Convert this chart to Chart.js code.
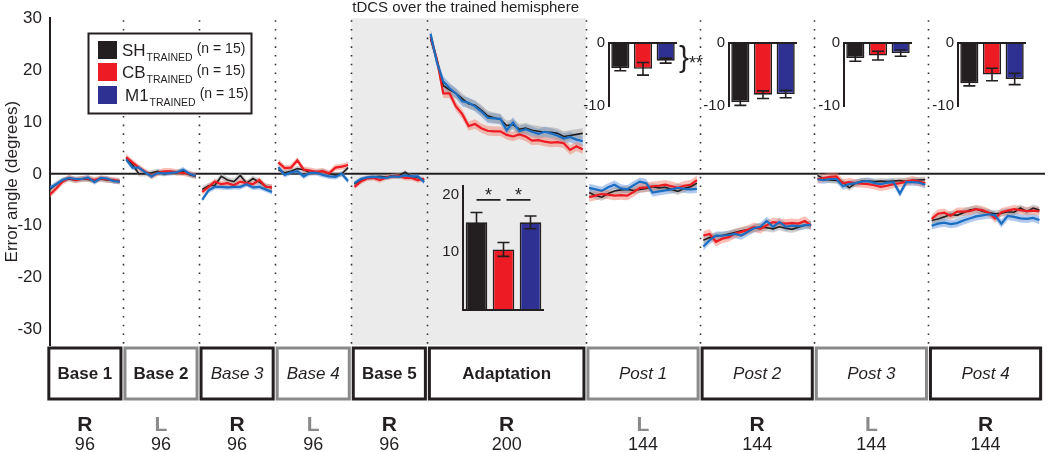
<!DOCTYPE html>
<html>
<head>
<meta charset="utf-8">
<script src="https://cdn.jsdelivr.net/npm/chart.js@4.4.1/dist/chart.umd.min.js"></script>
<style>
  html, body { margin: 0; padding: 0; background: #fff; }
  #wrap { position: relative; width: 1050px; height: 452px; overflow: hidden; }
  #wrap canvas { position: absolute; }
</style>
</head>
<body>
<div id="wrap">
  <canvas id="main" width="1050" height="452" style="left:0;top:0"></canvas>
  <canvas id="inAdapt" width="126" height="150" style="left:423px;top:173px"></canvas>
  <canvas id="inP1" width="143" height="89" style="left:569px;top:30px"></canvas>
  <canvas id="inP2" width="112" height="89" style="left:689px;top:30px"></canvas>
  <canvas id="inP3" width="112" height="89" style="left:804px;top:30px"></canvas>
  <canvas id="inP4" width="112" height="89" style="left:918px;top:30px"></canvas>
</div>
<script>
// ---- data ----
const blockNames = ['Base 1', 'Base 2', 'Base 3', 'Base 4', 'Base 5', 'Adaptation', 'Post 1', 'Post 2', 'Post 3', 'Post 4'];
const blockTrials = [96, 96, 96, 96, 96, 200, 144, 144, 144, 144];
const blockHand = ['R', 'L', 'R', 'L', 'R', 'R', 'L', 'R', 'L', 'R'];
const epochTrials = 8;
const yTickValues = [-30, -20, -10, 0, 10, 20, 30];
const groupNames = ['SH', 'CB', 'M1'];

// mean error per 8-trial epoch, one array per block
const shEpochs = [
  [-3, -2, -1.2, -1, -1.2, -1, -1.1, -1.3, -1, -1.2, -1.3, -1.5],
  [3, 1.8, 0, 0, 0.2, 0.5, 0, 0.3, 0.2, 0.5, -0.2, -0.5],
  [-3, -2.3, -2.2, -0.5, -1.2, -1.5, -0.3, -1.8, -0.9, -1.6, -2.4, -2.7],
  [0.8, 0.2, 0.5, 1, 0.8, 0.2, 0.3, 0.5, 0, -0.2, 0, 1.2],
  [-2, -1.2, -0.8, -0.6, -0.5, -0.6, -0.4, -0.3, 0.3, -0.5, -0.7, -1.2],
  [26, 22, 17, 16.2, 15.5, 14.5, 13.5, 13.2, 12.3, 11.2, 10.8, 10.5, 9.3, 9.5, 8.6, 8.8, 8.4, 8.2, 8, 8, 7.8, 7.2, 7.4, 7.6, 7.8],
  [-3.6, -4.2, -4.5, -3.8, -3.3, -3.1, -3, -3.2, -3, -2.8, -2.5, -2.7, -2.6, -3, -3.4, -2.8, -2.5, -1.8],
  [-12.8, -12.3, -12, -11.9, -11.6, -11.3, -11, -10.8, -10.5, -10.3, -10.4, -10.6, -10.2, -10.5, -10.7, -10.3, -9.9, -9.8],
  [-0.3, -1, -1.2, -1.3, -1.6, -2.7, -1.8, -1.4, -1.4, -1.5, -1.4, -1.5, -1.4, -1.3, -1.5, -1.3, -1.2, -1.1],
  [-9, -8.7, -8.3, -7.8, -8, -7.5, -7, -6.8, -7.2, -7.5, -7.7, -7.6, -7.3, -7.4, -6.6, -7.3, -6.6, -7]
];
const cbEpochs = [
  [-4, -2.8, -1.5, -0.8, -1.2, -1, -0.9, -1.2, -0.9, -1.1, -1.2, -1.4],
  [3.2, 2.2, 1.2, 0.4, -0.4, 0.2, 0.5, 0.5, 0.3, 0.2, 0, -0.4],
  [-3.5, -2.5, -1.5, -2, -1.8, -2.2, -1.5, -1.8, -2, -1.2, -2.5, -2.6],
  [2.2, 1.1, 1.2, 2.6, 0.8, 0.6, 0.4, 0.5, 0.1, 1.2, 1.4, 1.7],
  [-2.5, -1.5, -0.9, -0.8, -1.2, -0.7, -0.5, -0.4, -0.8, -0.8, -1.2, -1],
  [26.5, 22, 15.5, 15.5, 13, 11.5, 9.2, 9.6, 8.8, 8.3, 8.2, 8.2, 7.5, 7.2, 7.6, 7.2, 6.4, 6.5, 6.2, 6, 6.1, 5.9, 4.6, 5.3, 4.7],
  [-4.5, -4.2, -3.9, -4, -4.2, -4.1, -4.2, -3.5, -2.7, -2.6, -2.4, -2.3, -2.1, -2.4, -2.7, -2.3, -2.1, -1.2],
  [-11.9, -11.6, -13.1, -12.5, -12.2, -11.5, -11.2, -10.8, -10.3, -10.6, -9.9, -9.3, -9.5, -9.6, -9.5, -9.6, -9.1, -10],
  [-1, -0.8, -0.6, -0.5, -1.8, -1.6, -1.8, -1.9, -2, -2.2, -2.5, -2.3, -2, -1.8, -1.5, -1.2, -1.5, -1.8],
  [-8.7, -7.7, -7.5, -8.1, -7.3, -7.3, -7.2, -6.8, -7, -7.5, -8.6, -7.4, -7.1, -6.8, -7, -7.2, -7.1, -7.2]
];
const m1Epochs = [
  [-2.7, -2, -1.2, -0.8, -1, -1, -0.7, -1.6, -0.8, -0.9, -1.4, -1.5],
  [2.8, 1.2, 1.2, 0.3, -0.5, 0.2, 0.1, 0.2, 0.3, 0.8, 0, -0.4],
  [-5, -3.2, -2.5, -2.5, -2.6, -2.5, -2.5, -2, -2.6, -2.5, -3, -3.5],
  [1.3, -0.2, 0.3, 0.5, -0.5, 0.2, 0.2, -0.2, -0.5, -0.6, 0, -1.4],
  [-1.8, -1, -0.7, -0.6, -0.7, -0.8, -0.5, -0.6, -0.3, -0.5, -0.5, -1.6],
  [27, 21.5, 17.8, 16.5, 15.5, 14, 13.7, 13, 12, 10.8, 10.7, 10.6, 8.4, 9.9, 8.2, 8.6, 8.1, 7.7, 8.1, 7.8, 7.4, 6.8, 7.1, 6.6, 6.3],
  [-2.7, -3, -3.3, -2.6, -2.1, -2.8, -3, -2.2, -1.5, -1.8, -3.6, -3.4, -3.2, -3, -2.7, -2.9, -3, -2.9],
  [-14, -12.8, -11.9, -11.9, -11.8, -11.6, -11.9, -11.2, -10.5, -10.2, -9.1, -10.2, -9.3, -10.2, -10, -10.1, -9.9, -9.9],
  [-1.1, -1.2, -1, -1, -2.4, -2, -1.8, -1.5, -1.4, -1.8, -2, -1.7, -1.6, -3.8, -1.6, -1.6, -1.7, -2.1],
  [-10, -9.6, -9.4, -9.7, -9.5, -9, -8.6, -8.2, -8, -7.8, -8, -9.6, -8.1, -8.3, -8.6, -8.7, -8.5, -8.9]
];
// SEM per block (shaded bands)
const shSem = [0.5, 0.5, 0.6, 0.5, 0.4, 1.0, 0.7, 0.7, 0.6, 0.7];
const cbSem = [0.6, 0.6, 0.6, 0.6, 0.5, 0.9, 0.9, 0.9, 0.8, 0.8];
const m1Sem = [0.5, 0.5, 0.5, 0.5, 0.4, 1.0, 0.8, 0.8, 0.7, 0.8];

// inset bar charts: mean and SEM per group
const adaptMeans = [15.2, 10.5, 15.2];
const adaptSem = [1.7, 1.2, 1.1];
const post1Means = [-4.0, -4.1, -2.8];
const post1Sem = [0.4, 1.0, 0.4];
const post2Means = [-9.4, -8.2, -8.1];
const post2Sem = [0.5, 0.6, 0.6];
const post3Means = [-2.4, -2.0, -1.6];
const post3Sem = [0.5, 0.7, 0.5];
const post4Means = [-6.4, -5.0, -5.7];
const post4Sem = [0.4, 1.0, 0.9];

// ---- styling ----
const FONT = '"Liberation Sans", Arial, sans-serif';
const INK = '#231f20';
const GREY = '#8a8a8a';
const lineColors = ['#231f20', '#ed1c24', '#1b6ec2'];
const bandColors = ['rgba(150,150,150,0.45)', 'rgba(242,130,110,0.5)', 'rgba(80,135,215,0.45)'];
const barColors = ['#231f20', '#ed1c24', '#2e3192'];
const italicBlocks = ['Base 3', 'Base 4', 'Post 1', 'Post 2', 'Post 3', 'Post 4'];

const blockStart = [];
blockTrials.reduce((acc, n) => { blockStart.push(acc); return acc + n; }, 0);
const totalTrials = blockTrials.reduce((a, b) => a + b, 0);

function epochPoints(values, b, offset) {
  return values.map((v, i) => ({ x: blockStart[b] + epochTrials / 2 + i * epochTrials, y: v + offset }));
}

const groups = [
  { epochs: shEpochs, sem: shSem },
  { epochs: cbEpochs, sem: cbSem },
  { epochs: m1Epochs, sem: m1Sem }
];

const datasets = [];
groups.forEach((g, gi) => {
  g.epochs.forEach((vals, b) => {
    datasets.push({ data: epochPoints(vals, b, -g.sem[b]), borderWidth: 0, pointRadius: 0, fill: false, order: 20 });
    datasets.push({ data: epochPoints(vals, b, g.sem[b]), borderWidth: 0, pointRadius: 0, fill: '-1', backgroundColor: bandColors[gi], order: 20 });
  });
});
groups.forEach((g, gi) => {
  g.epochs.forEach((vals, b) => {
    datasets.push({
      data: epochPoints(vals, b, 0),
      borderColor: lineColors[gi],
      borderWidth: gi === 0 ? 1.6 : 2.2,
      pointRadius: 0,
      fill: false,
      tension: 0,
      order: 3 - gi
    });
  });
});

const backdrop = {
  id: 'backdrop',
  beforeDatasetsDraw(chart) {
    const { ctx, chartArea: a, scales: { x, y } } = chart;
    ctx.save();
    // shaded tDCS period (Base 5 + Adaptation)
    const s0 = x.getPixelForValue(blockStart[4]);
    const s1 = x.getPixelForValue(blockStart[6]);
    ctx.fillStyle = '#ebebeb';
    ctx.fillRect(s0, a.top, s1 - s0, a.bottom - a.top);
    // dotted block boundaries
    ctx.strokeStyle = '#333';
    ctx.lineWidth = 1.6;
    ctx.setLineDash([1.6, 7.1]);
    for (let b = 1; b < blockStart.length; b++) {
      const px = Math.round(x.getPixelForValue(blockStart[b])) + 0.5;
      ctx.beginPath();
      ctx.moveTo(px, a.top + 2);
      ctx.lineTo(px, a.bottom);
      ctx.stroke();
    }
    ctx.setLineDash([]);
    // zero line
    const y0 = y.getPixelForValue(0);
    ctx.strokeStyle = INK;
    ctx.lineWidth = 2;
    ctx.beginPath();
    ctx.moveTo(a.left, y0);
    ctx.lineTo(a.right, y0);
    ctx.stroke();
    ctx.restore();
  },
  afterDraw(chart) {
    const { ctx, chartArea: a, scales: { x } } = chart;
    ctx.save();
    ctx.textAlign = 'center';
    ctx.textBaseline = 'middle';
    // title over the shaded area
    const s0 = x.getPixelForValue(blockStart[4]);
    const s1 = x.getPixelForValue(blockStart[6]);
    ctx.fillStyle = INK;
    ctx.font = '15px ' + FONT;
    ctx.fillText('tDCS over the trained hemisphere', (s0 + s1) / 2 - 3, 8);

    // block boxes and labels
    const boxTop = a.bottom + 3, boxBot = a.bottom + 54;
    blockNames.forEach((name, b) => {
      const l = x.getPixelForValue(blockStart[b]) + 2;
      const r = x.getPixelForValue(blockStart[b] + blockTrials[b]) - 2;
      const isL = blockHand[b] === 'L';
      ctx.strokeStyle = isL ? GREY : INK;
      ctx.lineWidth = 3;
      ctx.strokeRect(l, boxTop, r - l, boxBot - boxTop);
      const italic = italicBlocks.includes(name);
      ctx.fillStyle = INK;
      ctx.font = (italic ? 'italic ' : 'bold ') + '17px ' + FONT;
      const cx = (l + r) / 2;
      ctx.fillText(name, cx, (boxTop + boxBot) / 2 + 1);
      ctx.font = 'bold 21px ' + FONT;
      ctx.fillStyle = isL ? GREY : INK;
      ctx.fillText(blockHand[b], cx, 425);
      ctx.font = '18px ' + FONT;
      ctx.fillStyle = INK;
      ctx.fillText(String(blockTrials[b]), cx, 445);
    });

    // legend (opaque box over the dotted lines)
    ctx.fillStyle = '#fff';
    ctx.fillRect(88.5, 33.5, 163, 80);
    ctx.strokeStyle = INK;
    ctx.lineWidth = 2;
    ctx.strokeRect(88.5, 33.5, 163, 80);
    const rowY = [50, 72, 95];
    groupNames.forEach((gname, gi) => {
      ctx.fillStyle = barColors[gi];
      ctx.fillRect(98, rowY[gi] - 9, 19, 18);
      ctx.fillStyle = INK;
      ctx.textAlign = 'left';
      ctx.textBaseline = 'alphabetic';
      let tx = gi === 2 ? 125 : 122;
      ctx.font = '17px ' + FONT;
      ctx.fillText(gname, tx, rowY[gi] + 6);
      tx += ctx.measureText(gname).width + 1;
      ctx.font = '10.5px ' + FONT;
      ctx.fillText('TRAINED', tx, rowY[gi] + 11);
      tx += ctx.measureText('TRAINED').width + 4;
      ctx.font = '14px ' + FONT;
      ctx.fillText('(n = 15)', tx, rowY[gi] + 3);
    });
    ctx.restore();
  }
};

new Chart(document.getElementById('main'), {
  type: 'line',
  data: { datasets },
  options: {
    responsive: false,
    animation: false,
    layout: { padding: { top: 12, right: 5, bottom: 107, left: 0 } },
    plugins: { legend: { display: false }, tooltip: { enabled: false } },
    scales: {
      x: { type: 'linear', min: 4, max: totalTrials + 3, display: false },
      y: {
        min: -33, max: 30,
        afterBuildTicks: s => { s.ticks = yTickValues.map(v => ({ value: v })); },
        afterFit: s => { s.width = 50; },
        grid: { display: false, drawTicks: false },
        border: { display: true, color: INK, width: 2 },
        ticks: { color: INK, padding: 8, font: { size: 17, family: FONT } },
        title: { display: true, text: 'Error angle (degrees)', color: INK, padding: 2, font: { size: 17, family: FONT } }
      }
    }
  },
  plugins: [backdrop]
});

// ---- inset bar charts ----
function insetChart(id, means, sems, yMin, yMax, tickVals, padRight, extras) {
  const errPlugin = {
    id: 'err_' + id,
    afterDatasetsDraw(chart) {
      const { ctx, chartArea: a, scales: { y } } = chart;
      const meta = chart.getDatasetMeta(0);
      ctx.save();
      ctx.strokeStyle = INK;
      ctx.lineWidth = 1.6;
      meta.data.forEach((bar, i) => {
        const hi = y.getPixelForValue(means[i] + sems[i]);
        const lo = y.getPixelForValue(means[i] - sems[i]);
        ctx.beginPath();
        ctx.moveTo(bar.x, hi); ctx.lineTo(bar.x, lo);
        ctx.moveTo(bar.x - 6, hi); ctx.lineTo(bar.x + 6, hi);
        ctx.moveTo(bar.x - 6, lo); ctx.lineTo(bar.x + 6, lo);
        ctx.stroke();
      });
      // zero baseline
      const y0 = y.getPixelForValue(0);
      ctx.lineWidth = 2;
      ctx.beginPath();
      ctx.moveTo(a.left, y0); ctx.lineTo(a.right, y0);
      ctx.stroke();
      if (extras) extras(chart, meta);
      ctx.restore();
    }
  };
  const canvas = document.getElementById(id);
  return new Chart(canvas, {
    type: 'bar',
    data: {
      labels: groupNames,
      datasets: [{
        data: means,
        backgroundColor: barColors,
        borderColor: INK,
        borderWidth: 1.6,
        barPercentage: 0.8,
        categoryPercentage: 1
      }]
    },
    options: {
      responsive: false,
      animation: false,
      layout: { padding: { top: 10, right: padRight, bottom: canvas.height - 10 - (yMax === 0 ? 69 : 135), left: 0 } },
      plugins: { legend: { display: false }, tooltip: { enabled: false } },
      scales: {
        x: { display: false },
        y: {
          min: yMin, max: yMax,
          afterBuildTicks: s => { s.ticks = tickVals.map(v => ({ value: v })); },
          afterFit: s => { s.width = 40; },
          grid: { display: false, drawTicks: false },
          border: { display: true, color: INK, width: 2 },
          ticks: { color: INK, padding: 4, font: { size: 15, family: FONT } }
        }
      }
    },
    plugins: [errPlugin]
  });
}

insetChart('inAdapt', adaptMeans, adaptSem, 0, 21.5, [10, 20], 5, (chart, meta) => {
  const { ctx, scales: { y } } = chart;
  const ly = y.getPixelForValue(19.1);
  ctx.strokeStyle = INK;
  ctx.lineWidth = 1.6;
  ctx.beginPath();
  ctx.moveTo(meta.data[0].x, ly); ctx.lineTo(meta.data[1].x - 3, ly);
  ctx.moveTo(meta.data[1].x + 3, ly); ctx.lineTo(meta.data[2].x, ly);
  ctx.stroke();
  ctx.fillStyle = INK;
  ctx.font = '18px ' + FONT;
  ctx.textAlign = 'center';
  ctx.textBaseline = 'middle';
  ctx.fillText('*', (meta.data[0].x + meta.data[1].x - 3) / 2, ly - 4);
  ctx.fillText('*', (meta.data[1].x + 3 + meta.data[2].x) / 2, ly - 4);
});
insetChart('inP1', post1Means, post1Sem, -10, 0, [-10, 0], 35, (chart) => {
  const { ctx, chartArea: a } = chart;
  ctx.fillStyle = INK;
  ctx.textAlign = 'left';
  ctx.textBaseline = 'middle';
  ctx.font = '30px ' + FONT;
  ctx.fillText('}', a.right + 2, a.top + 16);
  ctx.font = '18px ' + FONT;
  ctx.fillText('**', a.right + 12, a.top + 21);
});
insetChart('inP2', post2Means, post2Sem, -10, 0, [-10, 0], 4);
insetChart('inP3', post3Means, post3Sem, -10, 0, [-10, 0], 4);
insetChart('inP4', post4Means, post4Sem, -10, 0, [-10, 0], 4);
</script>
</body>
</html>
